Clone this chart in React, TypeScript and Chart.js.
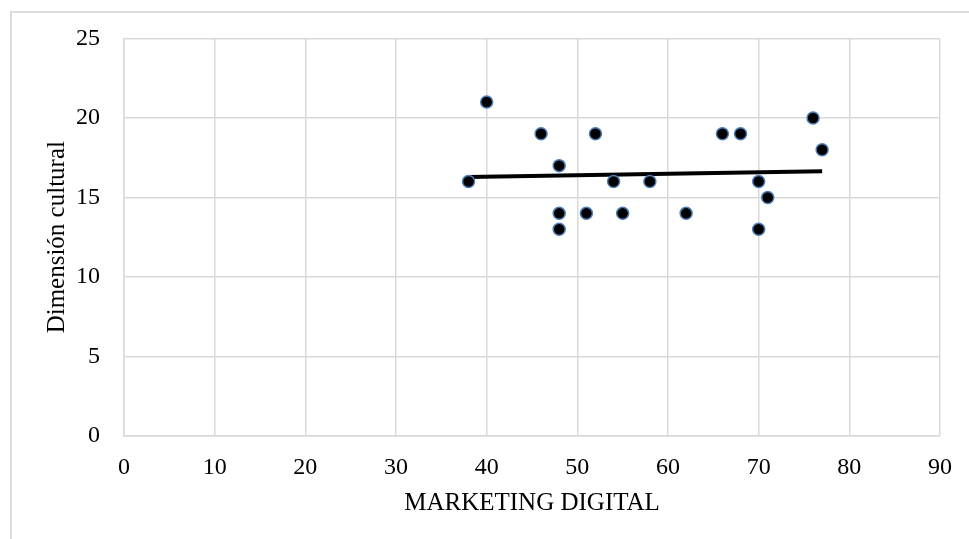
import React, { useEffect, useRef } from "react";
import { Chart, registerables } from "chart.js";

Chart.register(...registerables);

const marketingDigital = [38, 40, 46, 48, 48, 48, 51, 52, 54, 55, 58, 62, 66, 68, 70, 70, 71, 76, 77];
const dimensionCultural = [16, 21, 19, 17, 14, 13, 14, 19, 16, 14, 16, 14, 19, 19, 16, 13, 15, 20, 18];
const trendX = [38, 77];
const trendY = [16.29, 16.64];
const xTicks = [0, 10, 20, 30, 40, 50, 60, 70, 80, 90];
const yTicks = [0, 5, 10, 15, 20, 25];
const xTitle = "MARKETING DIGITAL";
const yTitle = "Dimensión cultural";

const FONT = "'Liberation Serif', 'Times New Roman', serif";

export default function App() {
  const ref = useRef<HTMLCanvasElement | null>(null);
  useEffect(() => {
    document.body.style.overflow = "hidden";
    const ctx = ref.current!.getContext("2d")!;
    const chart = new Chart(ctx, {
      type: "scatter",
      data: {
        datasets: [
          {
            label: "trend",
            type: "line",
            data: trendX.map((x, i) => ({ x, y: trendY[i] })),
            borderColor: "#000000",
            borderWidth: 4,
            pointRadius: 0,
            fill: false,
            order: 2,
          } as any,
          {
            label: "data",
            data: marketingDigital.map((x, i) => ({ x, y: dimensionCultural[i] })),
            backgroundColor: "#000000",
            borderColor: "#4a7ebb",
            borderWidth: 1.5,
            pointRadius: 6,
            order: 1,
          },
        ],
      },
      options: {
        animation: false,
        responsive: false,
        maintainAspectRatio: false,
        layout: { padding: { left: 10, top: 38, right: 28, bottom: 13 } },
        plugins: { legend: { display: false }, tooltip: { enabled: false } },
        scales: {
          x: {
            type: "linear",
            min: 0,
            max: 90,
            afterBuildTicks: (s: any) => {
              s.ticks = xTicks.map((v) => ({ value: v }));
            },
            afterFit: (s: any) => {
              s.height = 90;
            },
            ticks: { color: "#000", font: { family: FONT, size: 24 }, padding: 17 },
            grid: { color: "#d9d9d9", lineWidth: 1.5, drawTicks: false },
            border: { color: "#d9d9d9", width: 1.5 },
            title: {
              display: true,
              text: xTitle,
              color: "#000",
              font: { family: FONT, size: 25 },
              padding: { top: 0, bottom: 8 },
            },
          },
          y: {
            type: "linear",
            min: 0,
            max: 25,
            afterBuildTicks: (s: any) => {
              s.ticks = yTicks.map((v) => ({ value: v }));
            },
            afterFit: (s: any) => {
              s.width = 114;
            },
            ticks: { color: "#000", font: { family: FONT, size: 24 }, padding: 24 },
            grid: { color: "#d9d9d9", lineWidth: 1.5, drawTicks: false },
            border: { color: "#d9d9d9", width: 1.5 },
            title: {
              display: true,
              text: yTitle,
              color: "#000",
              font: { family: FONT, size: 25 },
              padding: { top: 32, bottom: 0 },
            },
          },
        },
      },
    });
    return () => chart.destroy();
  }, []);
  return (
    <div>
      <div
        style={{
          position: "fixed",
          left: 10,
          top: 11,
          width: 2000,
          height: 1000,
          borderLeft: "2px solid #dcdcdc",
          borderTop: "2px solid #dcdcdc",
          boxSizing: "border-box",
        }}
      />
      <canvas
        ref={ref}
        width={969}
        height={539}
        style={{ position: "fixed", left: 0, top: 0, width: 969, height: 539 }}
      />
    </div>
  );
}
